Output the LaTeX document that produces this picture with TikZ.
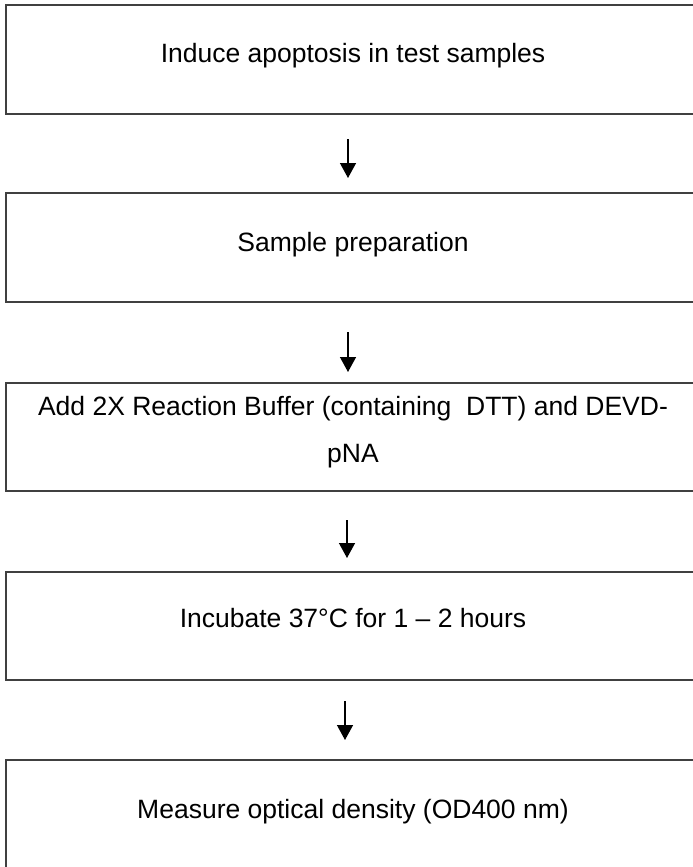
\documentclass[tikz,border=0pt]{standalone}
\usepackage{fontspec}
\setmainfont{Liberation Sans}
\usetikzlibrary{arrows.meta,calc}
\definecolor{boxgray}{HTML}{404040}
\begin{document}
\begin{tikzpicture}[x=1pt,y=-1pt,
  stepbox/.style={draw=boxgray,line width=1.5pt,minimum width=710pt,anchor=north west,inner sep=0pt,outer sep=0pt},
  lbl/.style={font=\fontsize{26.5}{47}\selectfont,anchor=base,inner sep=0pt,align=center},
  arr/.style={line width=1.4pt,-{Triangle[length=15pt,width=16pt]}}]
\useasboundingbox (0,0) rectangle (693,867);
\node[stepbox,minimum height=109pt] (b1) at (6,5) {};
\node[stepbox,minimum height=109pt] (b2) at (6,193) {};
\node[stepbox,minimum height=108pt] (b3) at (6,383) {};
\node[stepbox,minimum height=108pt] (b4) at (6,572) {};
\node[stepbox,minimum height=110pt] (b5) at (6,760) {};
\node[lbl] (t1) at (353,63) {Induce apoptosis in test samples};
\node[lbl] (t2) at (353,251) {Sample preparation};
\node[lbl] (t3a) at (353,415) {Add 2X Reaction Buffer (containing\ \ DTT) and DEVD-};
\node[lbl] (t3b) at (353,462) {pNA};
\node[lbl] (t4) at (353,627) {Incubate 37°C for 1 – 2 hours};
\node[lbl] (t5) at (353,818) {Measure optical density (OD400 nm)};
\draw[arr] ([xshift=-13pt,yshift=-25pt]b1.south) -- ([xshift=-13pt,yshift=15pt]b2.north);
\draw[arr] ([xshift=-13pt,yshift=-30pt]b2.south) -- ([xshift=-13pt,yshift=11pt]b3.north);
\draw[arr] ([xshift=-14pt,yshift=-29pt]b3.south) -- ([xshift=-14pt,yshift=14pt]b4.north);
\draw[arr] ([xshift=-16pt,yshift=-21pt]b4.south) -- ([xshift=-16pt,yshift=20pt]b5.north);
\end{tikzpicture}
\end{document}
